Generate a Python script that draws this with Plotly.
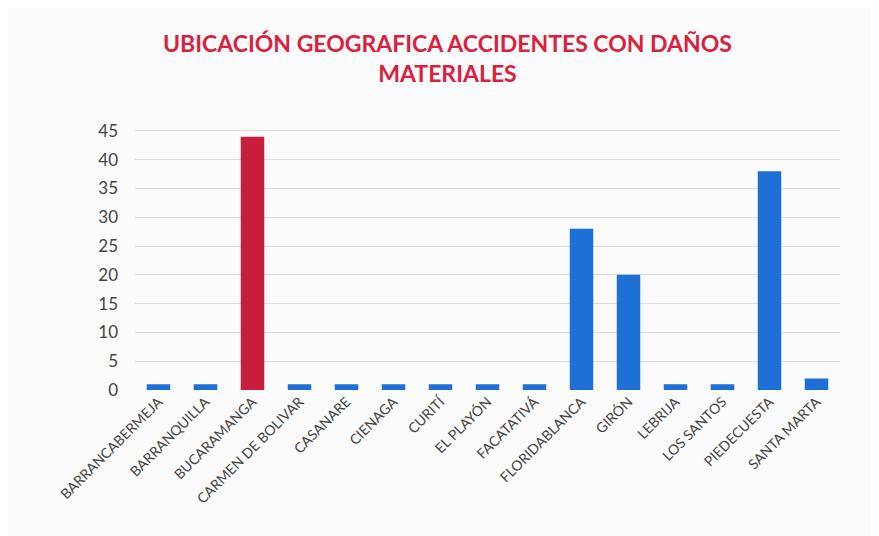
import plotly.graph_objects as go

categories = ["BARRANCABERMEJA", "BARRANQUILLA", "BUCARAMANGA", "CARMEN DE BOLIVAR",
              "CASANARE", "CIENAGA", "CURITÍ", "EL PLAYÓN", "FACATATIVÁ",
              "FLORIDABLANCA", "GIRÓN", "LEBRIJA", "LOS SANTOS", "PIEDECUESTA", "SANTA MARTA"]
values = [1, 1, 44, 1, 1, 1, 1, 1, 1, 28, 20, 1, 1, 38, 2]
highlight = "BUCARAMANGA"
y_ticks = [0, 5, 10, 15, 20, 25, 30, 35, 40, 45]

colors = ["#c81e3c" if c == highlight else "#1e6fd6" for c in categories]

fig = go.Figure(go.Bar(
    x=categories, y=values, marker=dict(color=colors, line=dict(width=0)),
    width=0.5,
))

fig.update_layout(
    width=879, height=536,
    paper_bgcolor="#fbfbfb", plot_bgcolor="#fbfbfb",
    margin=dict(l=127, r=47, t=120, b=154),
    title=dict(
        text="<b>UBICACIÓN GEOGRAFICA ACCIDENTES CON DAÑOS<br>MATERIALES</b>",
        x=0.5, xanchor="center", y=0.917, yanchor="top",
        font=dict(family="Lato, Open Sans, sans-serif", size=23, color="#d9213f"),
    ),
    showlegend=False,
    font=dict(family="Lato, Open Sans, sans-serif", color="#444"),
)
fig.update_xaxes(tickangle=-45, tickfont=dict(size=14, color="#444"), showline=False,
                 showgrid=False, ticks="")
fig.update_yaxes(range=[0, 45.5], tickvals=y_ticks, tickfont=dict(size=17, color="#444"),
                 showgrid=True, gridcolor="#dddddd", zeroline=False, showline=False,
                 ticks="", ticklabelstandoff=16)

fig.write_html("out.html")
